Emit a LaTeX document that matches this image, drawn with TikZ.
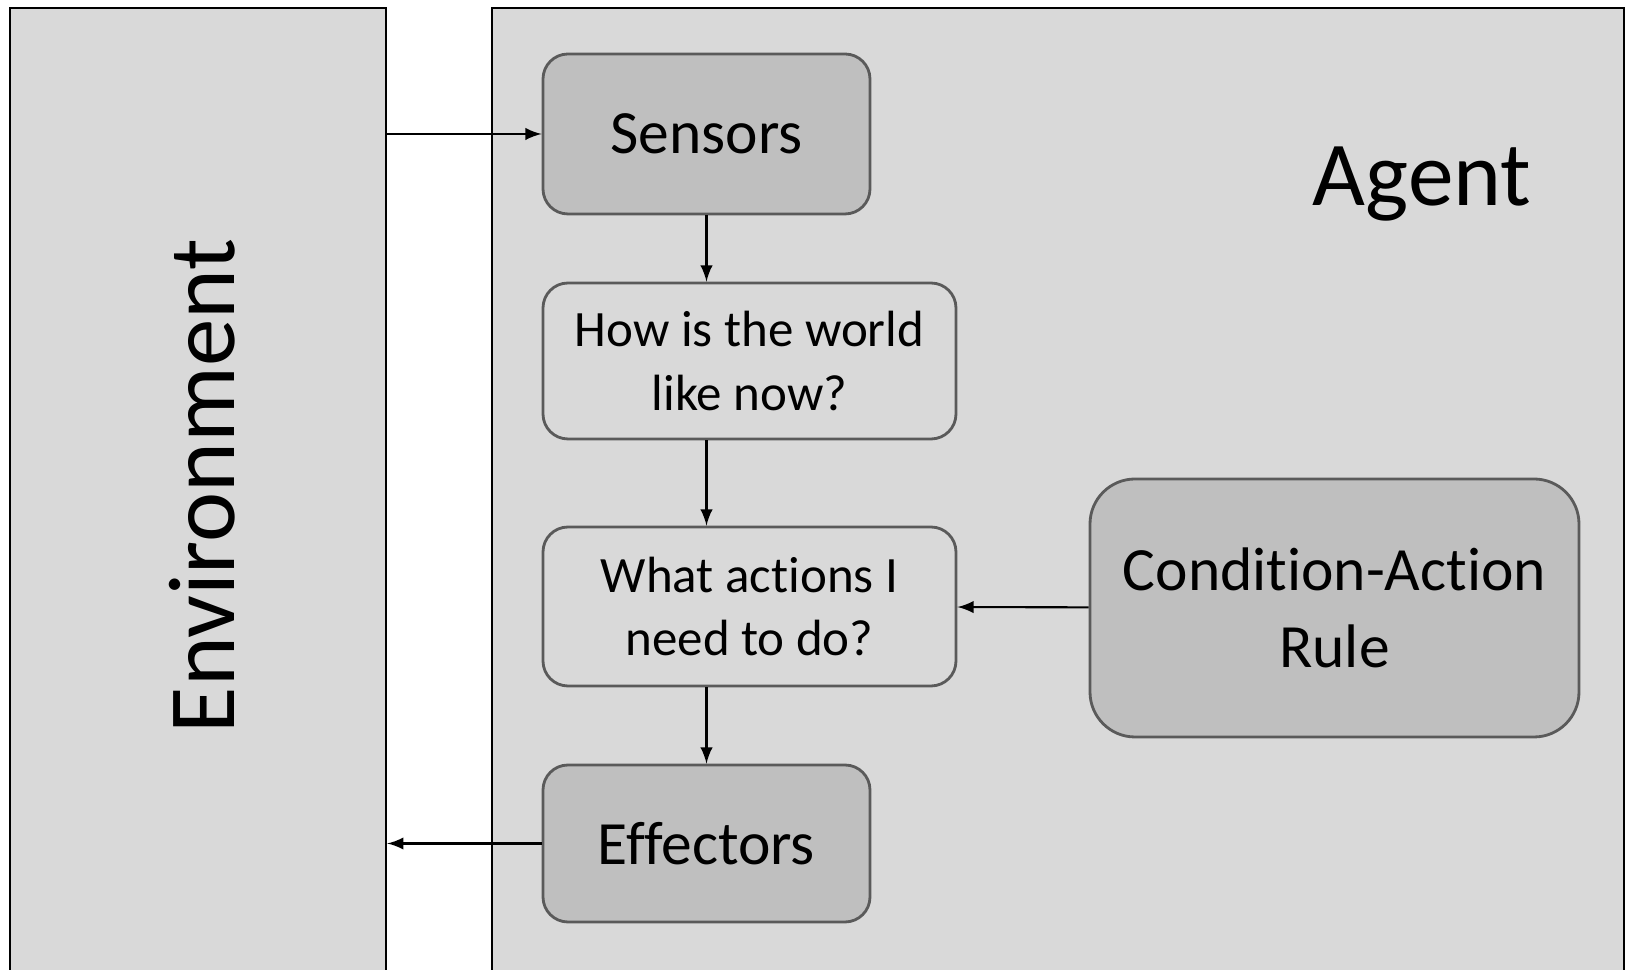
\documentclass[tikz,border=0pt]{standalone}
\usepackage{fontspec}
\setmainfont{Carlito}[Ligatures=NoCommon]
\definecolor{panel}{HTML}{D9D9D9}
\definecolor{darkfill}{HTML}{BFBFBF}
\definecolor{boxline}{HTML}{5A5A5A}
\begin{document}
\begin{tikzpicture}[
        outer/.style={draw=black, line width=0.7pt, fill=panel, inner sep=0pt},
        dark/.style={draw=boxline, line width=0.8pt, fill=darkfill, rounded corners=0.25cm, inner sep=0pt, align=center, font=\fontsize{17.5}{22}\selectfont},
        light/.style={draw=boxline, line width=0.8pt, fill=panel, rounded corners=0.25cm, inner sep=0pt, align=center, font=\fontsize{14.5}{18.2}\selectfont},
        link/.style={line width=0.6pt, -latex}
    ]
        \useasboundingbox (0, 0) rectangle (16.27, 9.70);

        \node[outer, minimum width=3.76cm, minimum height=9.72cm] (env) at (1.98, 4.76) {};
        \node[outer, minimum width=11.32cm, minimum height=9.72cm] (agent) at (10.58, 4.76) {};
        \node[rotate=90, font=\fontsize{27}{32}\selectfont] (envlabel) at (2.02, 4.84) {Environment};
        \node[font=\fontsize{26}{31}\selectfont] (agentlabel) at (14.22, 7.86) {Agent};

        \node[dark, minimum width=3.27cm, minimum height=1.60cm] (sensors) at (7.065, 8.36) {Sensors};
        \node[light, minimum width=4.13cm, minimum height=1.56cm] (world) at (7.495, 6.09) {How is the world\\like now?};
        \node[light, minimum width=4.13cm, minimum height=1.59cm] (actions) at (7.495, 3.635) {What actions I\\need to do?};
        \node[dark, minimum width=3.27cm, minimum height=1.57cm] (effectors) at (7.065, 1.265) {Effectors};
        \node[dark, minimum width=4.89cm, minimum height=2.58cm, rounded corners=0.45cm] (rule) at (13.345, 3.62) {Condition-Action\\Rule};

        \draw[link] (env.east |- sensors) -- (sensors);
        \draw[link] (sensors) -- (sensors |- world.north);
        \draw[link] (world.south -| sensors) -- (actions.north -| sensors);
        \draw[link] (actions.south -| sensors) -- (effectors);
        \draw[link] (rule) -- (actions);
        \draw[link] (effectors) -- (env.east |- effectors);

    \end{tikzpicture}
\end{document}
